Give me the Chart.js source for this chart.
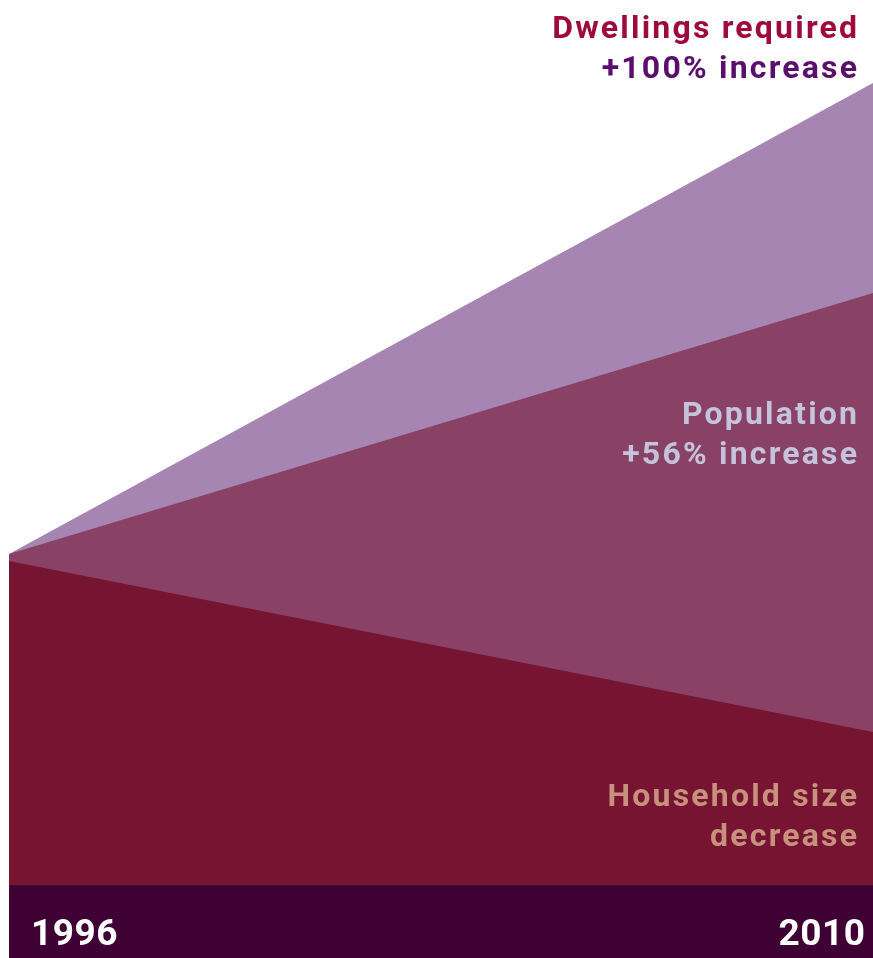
<!DOCTYPE html>
<html>
<head>
<meta charset="utf-8">
<script src="https://cdn.jsdelivr.net/npm/chart.js@4"></script>
<style>
  html, body { margin: 0; padding: 0; background: #fff; }
  #wrap { width: 873px; height: 958px; }
</style>
</head>
<body>
<div id="wrap"><canvas id="growth" width="873" height="958"></canvas></div>
<script>
// schematic index values (chart bottom = 0)
const years = [1996, 2010];
const dwellings = [331, 802];
const population = [331, 592];
const householdSize = [324, 153];

const colors = {
  dwellings: "#a785b2",
  population: "#894165",
  household: "#761431",
  band: "#3f0034",
};

const labels = [
  { lines: ["Dwellings required", "+100% increase"], colors: ["#9e0a3c", "#5a0f6c"], y: 38 },
  { lines: ["Population", "+56% increase"], colors: ["#c5c3dc", "#c5c3dc"], y: 424 },
  { lines: ["Household size", "decrease"], colors: ["#c8917e", "#c8917e"], y: 806 },
];

const FONT = "bold 32px Roboto, 'DejaVu Sans', sans-serif";
const SPACING = 2.2;

const decor = {
  id: "decor",
  beforeDraw(chart) {
    const { ctx, chartArea } = chart;
    ctx.save();
    ctx.fillStyle = colors.band;
    ctx.fillRect(chartArea.left, chartArea.bottom, chartArea.right - chartArea.left, chart.height - chartArea.bottom);
    ctx.restore();
  },
  afterDraw(chart) {
    const { ctx } = chart;
    const x = chart.scales.x;
    ctx.save();
    ctx.font = FONT;
    ctx.letterSpacing = SPACING + "px";
    ctx.textAlign = "right";
    ctx.textBaseline = "alphabetic";
    labels.forEach((l) => {
      l.lines.forEach((t, i) => {
        ctx.fillStyle = l.colors[i];
        ctx.fillText(t, 857 + SPACING, l.y + i * 40);
      });
    });
    // year labels on the band
    ctx.letterSpacing = "0.5px";
    ctx.font = "bold 37px Roboto, 'DejaVu Sans', sans-serif";
    ctx.fillStyle = "#ffffff";
    ctx.textAlign = "left";
    ctx.fillText(String(years[0]), x.getPixelForValue(years[0]) + 22, 945);
    ctx.textAlign = "right";
    ctx.fillText(String(years[1]), x.getPixelForValue(years[1]) - 7.5, 945);
    ctx.restore();
  },
};

const ds = (data, color) => ({
  data: data,
  fill: "origin",
  backgroundColor: color,
  borderWidth: 0,
  pointRadius: 0,
  tension: 0,
});

new Chart(document.getElementById("growth").getContext("2d"), {
  type: "line",
  data: {
    datasets: [
      ds(years.map((y, i) => ({ x: y, y: householdSize[i] })), colors.household),
      ds(years.map((y, i) => ({ x: y, y: population[i] })), colors.population),
      ds(years.map((y, i) => ({ x: y, y: dwellings[i] })), colors.dwellings),
    ],
  },
  options: {
    responsive: false,
    animation: false,
    layout: { padding: { left: 9, right: 0, top: 0, bottom: 73 } },
    scales: {
      x: { type: "linear", min: 1996, max: 2010, display: false },
      y: { min: 0, max: 885, display: false },
    },
    plugins: {
      legend: { display: false },
      tooltip: { enabled: false },
    },
  },
  plugins: [decor],
});
</script>
</body>
</html>
